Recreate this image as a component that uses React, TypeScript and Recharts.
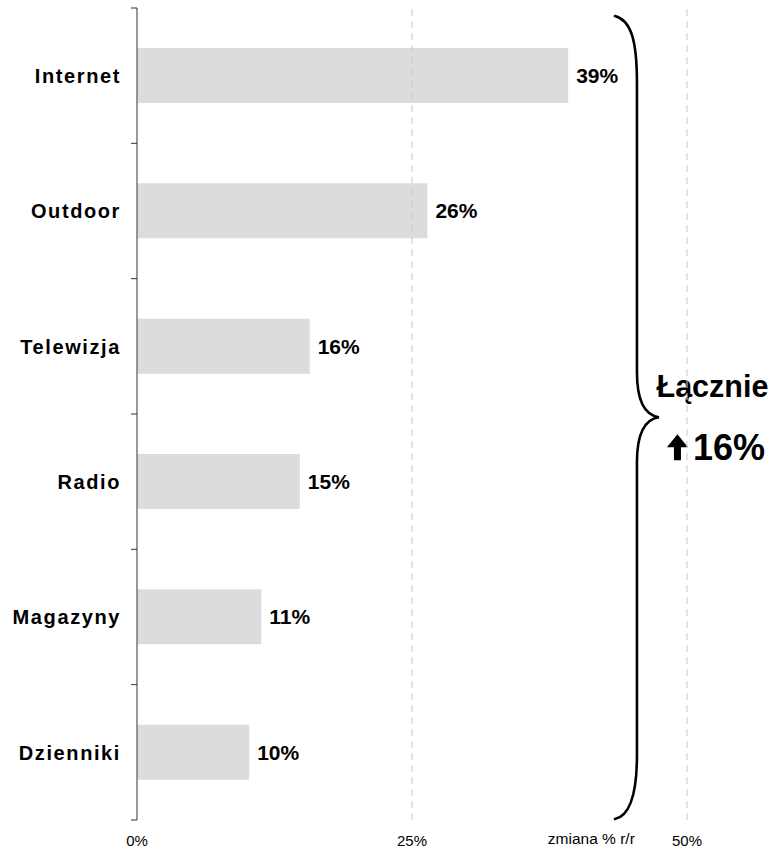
import React from 'react';
import { BarChart, Bar, XAxis, YAxis, ReferenceLine, ReferenceArea, LabelList, Label } from 'recharts';

const categories = ['Internet', 'Outdoor', 'Telewizja', 'Radio', 'Magazyny', 'Dzienniki'];
const changeValues = [39.2, 26.4, 15.7, 14.8, 11.3, 10.2];
const valueLabels = ['39%', '26%', '16%', '15%', '11%', '10%'];
const xTicks = [0, 25, 50];
const xTickLabels = ['0%', '25%', '50%'];
const gridValues = [25, 50];
const axisTitle = 'zmiana % r/r';
const axisTitleValue = 41.3;
const totalTitle = 'Łącznie';
const totalLabel = '16%';
const braceFrom = 43.45;
const braceTo = 47.45;

const data = categories.map((name, i) => ({ name, value: changeValues[i], label: valueLabels[i] }));

const W = 776;
const H = 851;
const MARGIN = { top: 8, right: 89, bottom: 0, left: 0 };
const Y_AXIS_W = 137;
const X_AXIS_H = 31;
const PLOT_H = H - MARGIN.top - MARGIN.bottom - X_AXIS_H;
const FONT = '"Liberation Sans", Arial, Helvetica, sans-serif';

const YTick = (props: any) => {
  const { y, payload, index, visibleTicksCount } = props;
  const half = payload && typeof payload.offset === 'number' && payload.offset > 0 ? payload.offset : PLOT_H / categories.length / 2;
  const axisX = MARGIN.left + Y_AXIS_W;
  const last = index === (visibleTicksCount ?? categories.length) - 1;
  return (
    <g>
      <line x1={axisX - 6} x2={axisX} y1={y - half} y2={y - half} stroke="#333" strokeWidth={1} />
      {last && <line x1={axisX - 6} x2={axisX} y1={y + half} y2={y + half} stroke="#333" strokeWidth={1} />}
      <text
        x={axisX - 16}
        y={y}
        dy="0.36em"
        textAnchor="end"
        fontFamily={FONT}
        fontWeight="bold"
        fontSize={20}
        letterSpacing={1.6}
        fill="#000"
      >
        {payload.value}
      </text>
    </g>
  );
};

const XTick = (props: any) => {
  const { x, index } = props;
  const baseY = MARGIN.top + PLOT_H;
  return (
    <text x={x} y={baseY + 26} textAnchor="middle" fontFamily={FONT} fontSize={15} fill="#000">
      {xTickLabels[index]}
    </text>
  );
};

const AxisTitle = (props: any) => {
  const vb = props.viewBox || { x: Y_AXIS_W, y: MARGIN.top + PLOT_H, width: W - Y_AXIS_W - MARGIN.right, height: X_AXIS_H };
  const x = vb.x + (vb.width * axisTitleValue) / xTicks[xTicks.length - 1];
  return (
    <text x={x} y={vb.y + 24} textAnchor="middle" fontFamily={FONT} fontSize={15.5} fill="#000">
      {axisTitle}
    </text>
  );
};

const BraceShape = (props: any) => {
  const { x, y, width, height } = props;
  const L = x;
  const R = x + width;
  const top = y;
  const bottom = y + height;
  const mid = top + height * 0.504;
  const V = L + 22;
  const d = [
    `M${L},${top + 8}`,
    `C${L + 16},${top + 12} ${V},${top + 32} ${V},${top + 75}`,
    `L${V},${mid - 45}`,
    `C${V},${mid - 15} ${V + 8},${mid - 2} ${R},${mid}`,
    `C${V + 8},${mid + 2} ${V},${mid + 15} ${V},${mid + 45}`,
    `L${V},${bottom - 65}`,
    `C${V},${bottom - 25} ${L + 14},${bottom - 4} ${L},${bottom - 1}`,
  ].join(' ');
  const ax = R + 8;
  const aTop = mid + 17;
  const aBot = mid + 43;
  const arrow = `M${ax},${aTop + 13} L${ax + 10.5},${aTop} L${ax + 21},${aTop + 13} L${ax + 14},${aTop + 13} L${ax + 14},${aBot} L${ax + 7},${aBot} L${ax + 7},${aTop + 13} Z`;
  return (
    <g>
      <path d={d} fill="none" stroke="#000" strokeWidth={2.6} strokeLinecap="round" />
      <text x={R + 53.5} y={mid - 20} textAnchor="middle" fontFamily={FONT} fontWeight="bold" fontSize={30.5} fill="#000">
        {totalTitle}
      </text>
      <path d={arrow} fill="#000" />
      <text x={R + 34} y={aBot} textAnchor="start" fontFamily={FONT} fontWeight="bold" fontSize={36} fill="#000">
        {totalLabel}
      </text>
    </g>
  );
};

export default function App() {
  return (
    <div style={{ position: 'absolute', left: 0, top: 0, width: W, height: H, background: '#fff' }}>
      <BarChart width={W} height={H} data={data} layout="vertical" margin={MARGIN}>
        <XAxis
          type="number"
          domain={[0, 50]}
          ticks={xTicks}
          interval={0}
          axisLine={false}
          tickLine={false}
          tickSize={0}
          tickMargin={0}
          height={X_AXIS_H}
          tick={<XTick />}
        >
          <Label content={<AxisTitle />} />
        </XAxis>
        <YAxis
          type="category"
          dataKey="name"
          width={Y_AXIS_W}
          axisLine={{ stroke: '#555', strokeWidth: 1.2 }}
          tickLine={false}
          tick={<YTick />}
          interval={0}
        />
        {gridValues.map((v) => (
          <ReferenceLine key={v} x={v} stroke="#c8c8c8" strokeWidth={1} strokeDasharray="7 5" ifOverflow="extendDomain" />
        ))}
        <Bar dataKey="value" fill="#dcdcdc" barSize={55} isAnimationActive={false}>
          <LabelList
            dataKey="label"
            position="right"
            offset={8}
            fill="#000"
            fontFamily={FONT}
            fontWeight="bold"
            fontSize={21}
          />
        </Bar>
        <ReferenceArea x1={braceFrom} x2={braceTo} shape={<BraceShape />} fill="none" stroke="none" ifOverflow="visible" />
      </BarChart>
    </div>
  );
}
